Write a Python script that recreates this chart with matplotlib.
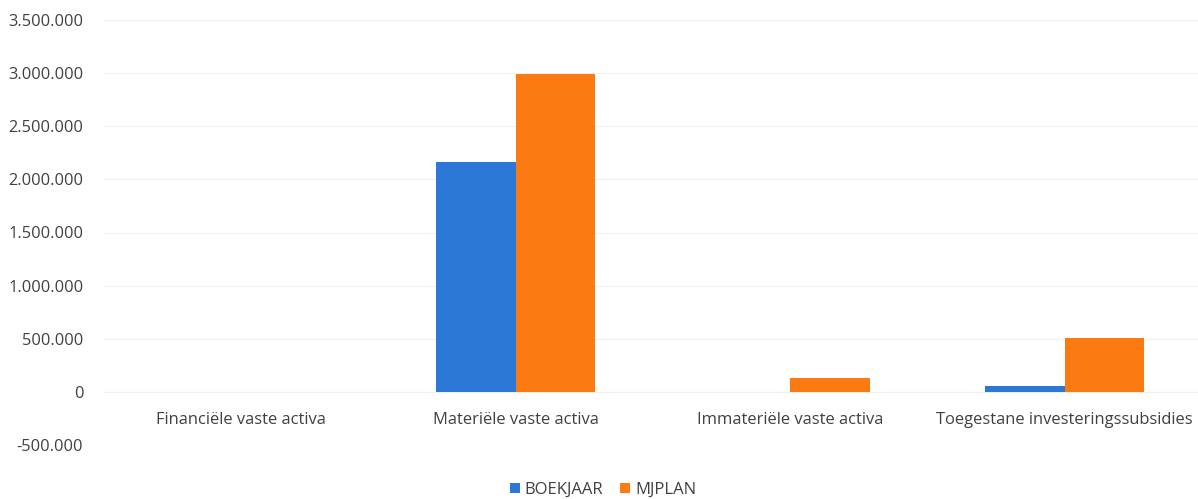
import matplotlib
matplotlib.use("Agg")
import matplotlib.pyplot as plt
import numpy as np
from matplotlib.ticker import FuncFormatter

categories = ["Financiële vaste activa", "Materiële vaste activa",
              "Immateriële vaste activa", "Toegestane investeringssubsidies"]
series_names = ["BOEKJAAR", "MJPLAN"]
boekjaar = [0, 2165000, 0, 60000]
mjplan = [0, 2990000, 135000, 510000]
yticks = [-500000, 0, 500000, 1000000, 1500000, 2000000, 2500000, 3000000, 3500000]

plt.rcParams['font.family'] = ['Open Sans', 'DejaVu Sans']

fig = plt.figure(figsize=(11.98, 4.99), dpi=100)
ax = fig.add_axes([104/1198, 54/499, 1098/1198, 425/499])

blue = "#2b78d6"
orange = "#fb7a12"
x = np.arange(len(categories))
w = 0.29
ax.bar(x - w/2, boekjaar, w, color=blue, label=series_names[0])
ax.bar(x + w/2, mjplan, w, color=orange, label=series_names[1])

ax.set_xlim(-0.5, len(categories) - 0.5)
ax.set_ylim(-500000, 3500000)
ax.set_yticks(yticks)
ax.yaxis.set_major_formatter(FuncFormatter(lambda v, p: f"{int(v):,}".replace(",", ".")))
ax.tick_params(axis='y', length=0, pad=15, labelsize=11.8, labelcolor="#404040")
ax.grid(axis='y', color="#f0f0f0", linewidth=0.8)
ax.set_axisbelow(True)
for s in ax.spines.values():
    s.set_visible(False)
ax.axhline(0, color="#e4e4e4", linewidth=0.8, zorder=0)

ax.set_xticks([])
for xi, lab in zip(x, categories):
    ax.text(xi, -265000, lab, ha='center', va='center', fontsize=11.9, color="#404040")

leg = fig.legend(loc='center', bbox_to_anchor=(603/1198, 1 - 490/499), ncol=2,
                 frameon=False, fontsize=12, handlelength=0.6, handleheight=0.6,
                 handletextpad=0.3, columnspacing=1.0)
for t in leg.get_texts():
    t.set_color("#404040")

fig.savefig("out.png", dpi=100, facecolor="white")
